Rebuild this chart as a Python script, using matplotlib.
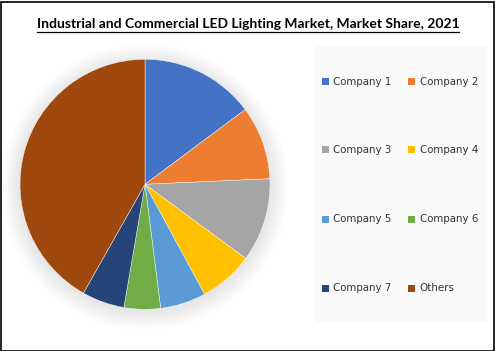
import matplotlib
matplotlib.use("Agg")
import matplotlib.pyplot as plt
from matplotlib.patches import Rectangle, Circle
from matplotlib.lines import Line2D

title = "Industrial and Commercial LED Lighting Market, Market Share, 2021"
categories = ["Company 1", "Company 2", "Company 3", "Company 4",
              "Company 5", "Company 6", "Company 7", "Others"]
shares = [14.8, 9.5, 10.8, 7.0, 5.9, 4.7, 5.5, 41.8]
colors = ["#4472C4", "#ED7D31", "#A5A5A5", "#FFC000",
          "#5B9BD5", "#70AD47", "#264478", "#9E480E"]

W, H = 495, 351
fig = plt.figure(figsize=(W / 100, H / 100), dpi=100)
fig.patch.set_facecolor("white")

# outer frame
fig.add_artist(Rectangle((0.5 / W, 0.5 / H), 1 - 2 / W, 1 - 2 / H,
                         transform=fig.transFigure, fill=False,
                         edgecolor="#000000", linewidth=1.2))

# pie
cx, cy, r = 145, 184.3, 125
ax = fig.add_axes([(cx - r) / W, (H - cy - r) / H, 2 * r / W, 2 * r / H])
# soft shadow
for k in range(12):
    rr = 1.0 + 0.012 * (k + 1)
    ax.add_patch(Circle((0.0, -0.02), rr, facecolor="#000000", alpha=0.006,
                        edgecolor="none", zorder=0, clip_on=False))
ax.pie(shares, colors=colors, startangle=90, counterclock=False,
       radius=1.0, wedgeprops=dict(edgecolor="white", linewidth=0.3, zorder=2))
ax.set_xlim(-1.0, 1.0)
ax.set_ylim(-1.0, 1.0)
ax.set_aspect("equal")
ax.axis("off")

# title with underline
t = fig.text(248 / W, 1 - 24 / H, title, ha="center", va="center",
             fontsize=10, fontweight="bold", family="Lato", color="#000000")
fig.canvas.draw()
bb = t.get_window_extent(renderer=fig.canvas.get_renderer())
uy = 1 - 31.5 / H
fig.add_artist(Line2D([bb.x0 / W, bb.x1 / W], [uy, uy],
                      transform=fig.transFigure, color="black", linewidth=0.9))

# legend panel
lx0, ly0, lx1, ly1 = 315, 46, 487, 322
fig.add_artist(Rectangle((lx0 / W, 1 - ly1 / H), (lx1 - lx0) / W, (ly1 - ly0) / H,
                         transform=fig.transFigure, facecolor="#F9F9F9",
                         edgecolor="none"))
row_y = [81.7, 150, 219, 288]
col_x = [325, 411.5]
for i, (lab, col) in enumerate(zip(categories, colors)):
    x = col_x[i % 2]
    y = row_y[i // 2]
    s = 7
    fig.add_artist(Rectangle(((x - s / 2) / W, 1 - (y + s / 2) / H), s / W, s / H,
                             transform=fig.transFigure, facecolor=col,
                             edgecolor="none"))
    fig.text((x + 8) / W, 1 - y / H, lab, ha="left", va="center",
             fontsize=7.4, family="DejaVu Sans", color="#333333")

fig.savefig("out.png", dpi=100)
